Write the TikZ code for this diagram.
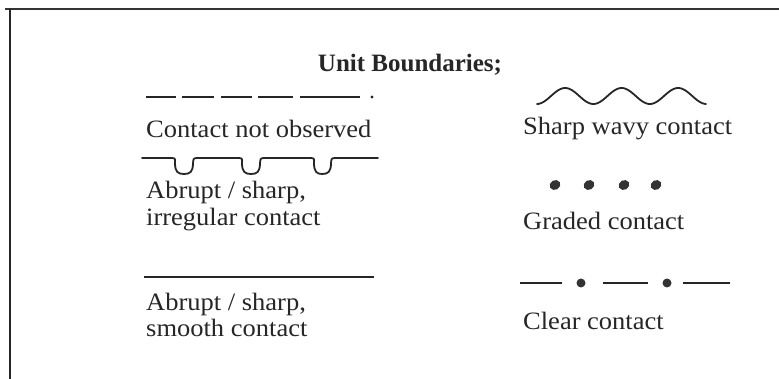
\documentclass[tikz,border=0pt]{standalone}
\usepackage{fontspec}
\setmainfont{Liberation Serif}
\newfontfamily\bodyfont[FakeStretch=1.06]{Liberation Serif}
\begin{document}
\begin{tikzpicture}[x=1pt,y=-1pt,
  lbl/.style={anchor=west,font=\bodyfont\fontsize{25}{26.5}\selectfont,align=left,inner sep=0pt,text=black!85},
  ttl/.style={font=\bfseries\fontsize{25}{28}\selectfont,inner sep=0pt,text=black!85},
  bline/.style={line width=1.8pt,draw=black!85},
  dotf/.style={fill=black!80}]
\useasboundingbox (0,0) rectangle (779,379);
% frame
\draw[line width=2pt,black!80] (5,9) -- (779,9);
\draw[line width=2pt,black!85] (10,9) -- (10,379);
% title
\node[ttl] (title) at (410,65) {Unit Boundaries;};
% contact not observed
\draw[bline] (146,97) -- (176,97) (182,97) -- (214,97) (221,97) -- (252,97) (258,97) -- (293,97) (300,97) -- (360,97);
\fill[black!85] (372,97) circle (1.6);
\node[lbl] (cno) at (146,129) {Contact not observed};
% irregular
\draw[bline,line cap=round] (142,158) -- (172,158)
  .. controls (176,158) and (175,160) .. (175,163)
  .. controls (175,172) and (178,174) .. (184,174)
  .. controls (190,174) and (193,172) .. (193,163)
  .. controls (193,160) and (193,158) .. (197,158)
  -- (239,158)
  .. controls (243,158) and (242,160) .. (242,163)
  .. controls (242,172) and (245,174) .. (251,174)
  .. controls (257,174) and (260,172) .. (260,163)
  .. controls (260,160) and (260,158) .. (264,158)
  -- (311,158)
  .. controls (315,158) and (314,160) .. (314,163)
  .. controls (314,172) and (317,174) .. (322,174)
  .. controls (328,174) and (331,172) .. (331,163)
  .. controls (331,160) and (331,158) .. (335,158)
  -- (378,158);
\node[lbl] (irr) at (146,206) {Abrupt / sharp,\\irregular contact};
% smooth
\draw[bline] (144,277) -- (374,277);
\node[lbl] (smo) at (146,315) {Abrupt / sharp,\\smooth contact};
% wavy
\draw[bline,line cap=round] plot[domain=537:706,samples=120,smooth] (\x,{96-8*sin((\x-551)*6.3717)});
\node[lbl] (wavy) at (523,129) {Sharp wavy contact};
% graded
\foreach \xx in {555,589,624,656}{
  \fill[dotf,rotate around={30:(\xx,185)}] (\xx,185) ellipse (5.5 and 4.8);
}
\node[lbl] (grad) at (523,221) {Graded contact};
% clear
\draw[line width=2.4pt,black!85] (520,283) -- (562,283) (603,283) -- (648,283) (683,283) -- (730,283);
\fill[dotf] (581,283) circle (4.5);
\fill[dotf] (667,283) circle (4.5);
\node[lbl] (clear) at (523,321) {Clear contact};
\end{tikzpicture}
\end{document}
